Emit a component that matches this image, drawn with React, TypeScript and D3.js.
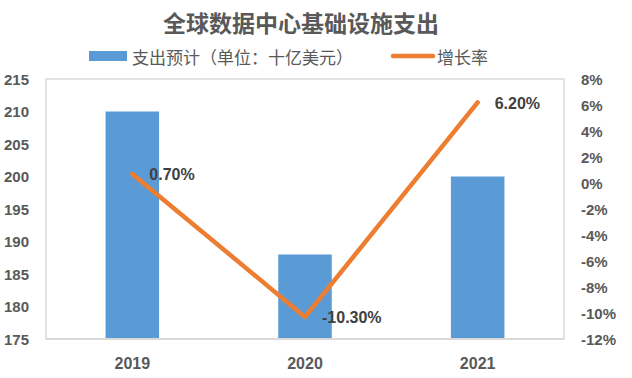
import React from "react";
import * as d3 from "d3";

const years = ["2019", "2020", "2021"];
const spending = [210, 188, 200];
const growth = [0.7, -10.3, 6.2];
const growthLabels = ["0.70%", "-10.30%", "6.20%"];
const leftTicks = [175, 180, 185, 190, 195, 200, 205, 210, 215];
const rightTicks = [-12, -10, -8, -6, -4, -2, 0, 2, 4, 6, 8];

const W = 632;
const H = 378;
const plot = { left: 46, right: 564, top: 79, bottom: 339 };
const cjk = "'Noto Sans CJK SC', 'Noto Sans', sans-serif";
const num = "'Liberation Sans', Arial, sans-serif";

export default function App() {
  const x = d3
    .scaleBand<string>()
    .domain(years)
    .range([plot.left, plot.right])
    .paddingInner(0.69)
    .paddingOuter(0.345);
  const yL = d3.scaleLinear().domain([175, 215]).range([plot.bottom, plot.top]);
  const yR = d3.scaleLinear().domain([-12, 8]).range([plot.bottom, plot.top]);
  const cx = (d: string) => (x(d) as number) + x.bandwidth() / 2;
  const line = d3
    .line<number>()
    .x((_, i) => cx(years[i]))
    .y((d) => yR(d));

  return (
    <svg
      width={W}
      height={H}
      style={{ position: "absolute", left: 0, top: 0, background: "#fff" }}
    >
      <text
        x={301}
        y={22}
        textAnchor="middle"
        dominantBaseline="central"
        fontFamily={cjk}
        fontWeight="bold"
        fontSize={23}
        fill="#595959"
      >
        全球数据中心基础设施支出
      </text>

      {/* legend */}
      <rect x={89} y={51} width={38} height={10} fill="#5B9BD5" />
      <text
        x={132}
        y={56}
        dominantBaseline="central"
        fontFamily={cjk}
        fontSize={17}
        fill="#595959"
      >
        支出预计（单位：十亿美元）
      </text>
      <line
        x1={393}
        x2={433}
        y1={56}
        y2={56}
        stroke="#ED7D31"
        strokeWidth={4.5}
        strokeLinecap="round"
      />
      <text
        x={437}
        y={56}
        dominantBaseline="central"
        fontFamily={cjk}
        fontSize={17}
        fill="#595959"
      >
        增长率
      </text>

      {/* plot border */}
      <rect
        x={plot.left}
        y={plot.top}
        width={plot.right - plot.left}
        height={plot.bottom - plot.top}
        fill="none"
        stroke="#D9D9D9"
        strokeWidth={1.5}
      />

      {/* bars */}
      {spending.map((v, i) => (
        <rect
          key={years[i]}
          x={x(years[i])}
          y={yL(v)}
          width={x.bandwidth()}
          height={plot.bottom - yL(v)}
          fill="#5B9BD5"
        />
      ))}

      <line
        x1={plot.left}
        x2={plot.right}
        y1={plot.bottom}
        y2={plot.bottom}
        stroke="#D9D9D9"
        strokeWidth={2}
      />

      {/* line */}
      <path
        d={line(growth) as string}
        fill="none"
        stroke="#ED7D31"
        strokeWidth={4.5}
        strokeLinejoin="round"
        strokeLinecap="round"
      />

      {growth.map((g, i) => (
        <text
          key={"l" + i}
          x={cx(years[i]) + 17}
          y={yR(g) + 1}
          dominantBaseline="central"
          fontFamily={num}
          fontWeight="bold"
          fontSize={16}
          fill="#404040"
        >
          {growthLabels[i]}
        </text>
      ))}

      {/* left axis */}
      {leftTicks.map((t) => (
        <text
          key={"L" + t}
          x={29}
          y={yL(t)}
          textAnchor="end"
          dominantBaseline="central"
          fontFamily={num}
          fontWeight="bold"
          fontSize={15}
          fill="#595959"
        >
          {t}
        </text>
      ))}

      {/* right axis */}
      {rightTicks.map((t) => (
        <text
          key={"R" + t}
          x={581}
          y={yR(t)}
          dominantBaseline="central"
          fontFamily={num}
          fontWeight="bold"
          fontSize={15}
          fill="#595959"
        >
          {t + "%"}
        </text>
      ))}

      {/* x axis */}
      {years.map((yv) => (
        <text
          key={"X" + yv}
          x={cx(yv)}
          y={363}
          textAnchor="middle"
          dominantBaseline="central"
          fontFamily={num}
          fontWeight="bold"
          fontSize={16}
          fill="#595959"
        >
          {yv}
        </text>
      ))}
    </svg>
  );
}
